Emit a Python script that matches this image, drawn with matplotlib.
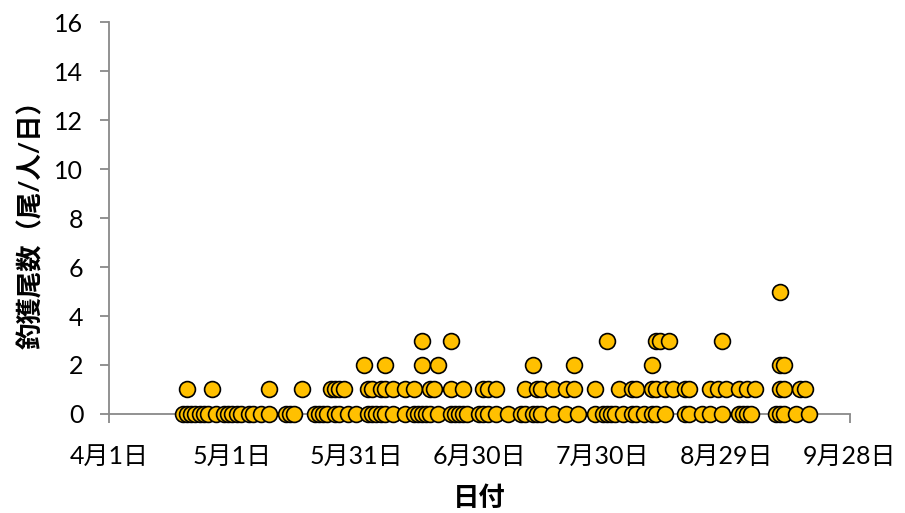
import datetime as dt
import matplotlib
matplotlib.use("Agg")
import matplotlib.pyplot as plt

plt.rcParams['font.family'] = ['Lato', 'Noto Sans CJK JP', 'DejaVu Sans']

# catch per angler per day, grouped by value
dates_0 = ["04-19", "04-20", "04-21", "04-22", "04-23", "04-24", "04-25", "04-27",
           "04-29", "04-30", "05-01", "05-02", "05-03", "05-05", "05-06", "05-08",
           "05-10", "05-14", "05-15", "05-16", "05-21", "05-22", "05-23", "05-24",
           "05-26", "05-27", "05-29", "05-31", "06-03", "06-04", "06-05", "06-06",
           "06-07", "06-09", "06-12", "06-14", "06-15", "06-16", "06-17", "06-18",
           "06-20", "06-23", "06-24", "06-25", "06-26", "06-27", "06-30", "07-01",
           "07-02", "07-04", "07-07", "07-10", "07-11", "07-13", "07-14", "07-15",
           "07-18", "07-21", "07-24", "07-28", "07-30", "07-31", "08-01", "08-02",
           "08-04", "08-06", "08-07", "08-09", "08-11", "08-12", "08-14", "08-19",
           "08-20", "08-23", "08-25", "08-28", "09-01", "09-02", "09-03", "09-04",
           "09-10", "09-11", "09-12", "09-15", "09-18"]
dates_1 = ["04-20", "04-26", "05-10", "05-18", "05-25", "05-26", "05-27", "05-28",
           "06-03", "06-04", "06-06", "06-07", "06-09", "06-12", "06-14", "06-18",
           "06-19", "06-23", "06-26", "07-01", "07-02", "07-04", "07-11", "07-14",
           "07-15", "07-18", "07-21", "07-23", "07-28", "08-03", "08-06", "08-07",
           "08-11", "08-12", "08-14", "08-16", "08-19", "08-20", "08-25", "08-27",
           "08-29", "09-01", "09-03", "09-05", "09-11", "09-12", "09-16", "09-17"]
dates_2 = ["06-02", "06-07", "06-16", "06-20", "07-13", "07-23", "08-11", "09-11", "09-12"]
dates_3 = ["06-16", "06-23", "07-31", "08-12", "08-13", "08-15", "08-28"]
dates_5 = ["09-11"]

groups = [(dates_0, 0), (dates_1, 1), (dates_2, 2), (dates_3, 3), (dates_5, 5)]

year = 2019
x_start = dt.date(year, 4, 1)
x_end = dt.date(year, 9, 28)

def to_date(s):
    m, d = s.split("-")
    return dt.date(year, int(m), int(d))

xs, ys = [], []
for ds, v in groups:
    for s in ds:
        xs.append(to_date(s))
        ys.append(v)

fig = plt.figure(figsize=(9.05, 5.13), dpi=100)
ax = fig.add_axes([0.1204, 0.193, 0.8186, 0.764])

ax.scatter(xs, ys, s=130, c='#FFC000', edgecolors='black', linewidths=1.2, zorder=3,
           clip_on=False)

ax.set_xlim(x_start, x_end)
ax.set_ylim(0, 16)
ax.set_yticks(range(0, 17, 2))
ticks = [x_start + dt.timedelta(days=30 * i) for i in range(7)]
ax.set_xticks(ticks)
ax.set_xticklabels([f"{t.month}月{t.day}日" for t in ticks])

for side in ['top', 'right']:
    ax.spines[side].set_visible(False)
for side in ['left', 'bottom']:
    ax.spines[side].set_color('#898989')
    ax.spines[side].set_linewidth(1.3)
ax.tick_params(axis='both', color='#898989', width=1.3, length=6.5, labelsize=18,
               labelcolor='black')
ax.tick_params(axis='y', pad=12)
ax.tick_params(axis='x', pad=16)

ax.set_xlabel("日付", fontsize=19, fontweight='bold', labelpad=12)
ax.set_ylabel("釣獲尾数（尾/人/日）", fontsize=19, fontweight='bold', labelpad=8)

fig.savefig("out.png", dpi=100)
